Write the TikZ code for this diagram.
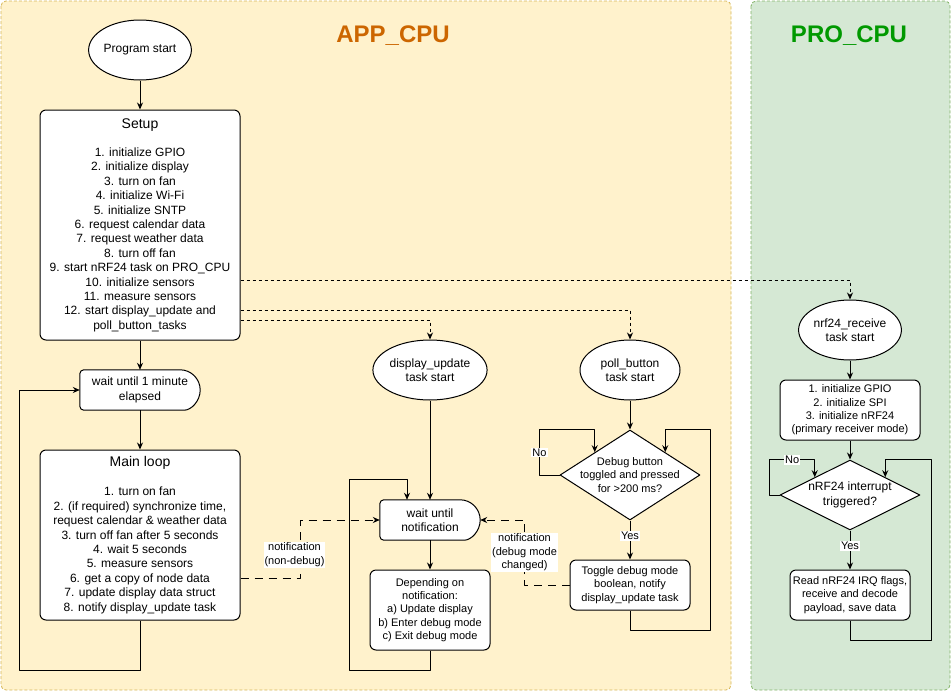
\documentclass[tikz,border=0pt]{standalone}
\usepackage{fontspec}
\setmainfont{Liberation Sans}
\usetikzlibrary{arrows.meta, shapes.geometric, backgrounds}

\definecolor{appfill}{HTML}{FFF2CC}
\definecolor{appline}{HTML}{D6B656}
\definecolor{profill}{HTML}{D5E8D4}
\definecolor{proline}{HTML}{82B366}
\definecolor{apptitle}{HTML}{CC6600}
\definecolor{protitle}{HTML}{009900}

\begin{document}
\begin{tikzpicture}[x=1pt, y=-1pt, >={Stealth[length=7pt, width=6pt]}, line join=round]
	%======================
	% STYLES
	%======================
	\tikzset{
		panel/.style={dash pattern=on 3pt off 2pt, rounded corners=5pt, line width=0.8pt},
		cputitle/.style={font=\fontsize{24}{28}\selectfont\bfseries},
		term/.style={ellipse, draw, fill=white, line width=1pt, minimum width=100pt, minimum height=60pt, inner sep=0pt, align=center, font=\fontsize{12}{14.4}\selectfont},
		proc/.style={rectangle, rounded corners=6pt, draw, fill=white, line width=1pt, align=center, inner sep=2pt, font=\fontsize{11}{13.4}\selectfont},
		bigproc/.style={proc, font=\fontsize{12}{14.4}\selectfont},
		dec/.style={diamond, draw, fill=white, line width=1pt, align=center, inner sep=0pt},
		waitnode/.style={rectangle, minimum height=40pt, inner sep=0pt, align=center, font=\fontsize{12}{14.4}\selectfont},
		flow/.style={->, line width=1pt},
		spawn/.style={->, line width=1pt, dash pattern=on 3pt off 3pt},
		notif/.style={->, line width=1pt, dash pattern=on 8pt off 6pt},
		lbl/.style={fill=white, inner sep=1pt, align=center, font=\fontsize{11}{13.4}\selectfont}
	}
	
	% delay shape drawn round a node
	\newcommand{\delayshape}[1]{
		\draw[line width=1pt, fill=white, rounded corners=4pt] ([xshift=-20pt]#1.north east) -- (#1.north west) -- (#1.south west) -- ([xshift=-20pt]#1.south east)
		[sharp corners] .. controls +(11,0) and +(0,11) .. (#1.east) .. controls +(0,-11) and +(11,0) .. ([xshift=-20pt]#1.north east) -- cycle;
	}
	
	\useasboundingbox (0,0) rectangle (951,691);
	
	% panels
	\begin{scope}[on background layer]
		\draw[panel, draw=appline, fill=appfill] (1,1) rectangle (731,690);
		\draw[panel, draw=proline, fill=profill] (751,1) rectangle (950,690);
	\end{scope}
	\node[cputitle, text=apptitle] (apptitle) at (393,36) {APP\_CPU};
	\node[cputitle, text=protitle] (protitle) at (849,36) {PRO\_CPU};
	
	% APP_CPU main task
	\node[term] (start) at (140,50) {Program start};
	\node[bigproc, minimum width=200pt, minimum height=230pt] (setup) at (140,225) {{\fontsize{14}{17}\selectfont Setup}\\[14pt]
		1. initialize GPIO\\2. initialize display\\3. turn on fan\\4. initialize Wi-Fi\\5. initialize SNTP\\
		6. request calendar data\\7. request weather data\\8. turn off fan\\9. start nRF24 task on PRO\_CPU\\
		10. initialize sensors\\11. measure sensors\\12. start display\_update and\\poll\_button\_tasks};
	\node[waitnode, minimum width=120pt] (wait1) at (140,390) {wait until 1 minute\\elapsed};
	\node[bigproc, minimum width=200pt, minimum height=170pt] (mainloop) at (140,535) {{\fontsize{14}{17}\selectfont Main loop}\\[15pt]
		1. turn on fan\\2. (if required) synchronize time,\\request calendar \& weather data\\3. turn off fan after 5 seconds\\
		4. wait 5 seconds\\5. measure sensors\\6. get a copy of node data\\7. update display data struct\\8. notify display\_update task};
	
	% display_update task
	\node[term] (dustart) at (430,370) {display\_update\\task start};
	\node[waitnode, minimum width=100pt] (wait2) at (430,520) {wait until\\notification};
	\node[proc, minimum width=120pt, minimum height=80pt] (depend) at (430,610) {Depending on\\notification:\\a) Update display\\b) Enter debug mode\\c) Exit debug mode};
	
	% poll_button task
	\node[term] (pbstart) at (630,370) {poll\_button\\task start};
	\node[dec, aspect=1.556, minimum width=140pt, minimum height=90pt, inner xsep=-10pt, font=\fontsize{11}{13.4}\selectfont] (debugq) at (630,475) {Debug button\\toggled and pressed\\for >200 ms?};
	\node[proc, minimum width=120pt, minimum height=50pt] (toggle) at (630,585) {Toggle debug mode\\boolean, notify\\display\_update task};
	
	% PRO_CPU task
	\node[term] (nrfstart) at (850,330) {nrf24\_receive\\task start};
	\node[proc, minimum width=140pt, minimum height=60pt] (nrfinit) at (850,410) {1. initialize GPIO\\2. initialize SPI\\3. initialize nRF24\\(primary receiver mode)};
	\node[dec, aspect=2, minimum width=140pt, minimum height=70pt, font=\fontsize{12}{14.4}\selectfont] (irqq) at (850,495) {nRF24 interrupt\\triggered?};
	\node[proc, minimum width=120pt, minimum height=50pt] (readirq) at (850,595) {Read nRF24 IRQ flags,\\receive and decode\\payload, save data};
	
	\begin{scope}[on background layer]
		\delayshape{wait1}
		\delayshape{wait2}
	\end{scope}
	
	% main flow
	\draw[flow] (start) -- (setup);
	\draw[flow] (setup) -- (wait1);
	\draw[flow] (wait1) -- (mainloop);
	\draw[flow] (mainloop.south) -- ++(0,50) -| ([xshift=-60pt]wait1.west) -- (wait1.west);
	
	% task creation
	\draw[spawn] ([yshift=-55pt]setup.east) -| (nrfstart.north);
	\draw[spawn] ([yshift=-85pt]setup.east) -| (pbstart.north);
	\draw[spawn] ([yshift=-95pt]setup.east) -| (dustart.north);
	
	% notifications
	\draw[notif] ([yshift=-43pt]mainloop.east) -- ++(60,0) |- node[lbl, pos=0.2, xshift=-6pt] {notification\\(non-debug)} (wait2.west);
	\draw[notif] (toggle.west) -- ++(-45,0) |- node[lbl, pos=0.25] {notification\\(debug mode\\changed)} (wait2.east);
	
	% display_update loop
	\draw[flow] (dustart) -- (wait2);
	\draw[flow] (wait2) -- (depend);
	\draw[flow] (depend.south) -- ++(0,20) -| ([shift={(-30pt,20pt)}]wait2.north west) -| ([xshift=-23pt]wait2.north);
	
	% poll_button loop
	\draw[flow] (pbstart) -- (debugq);
	\draw[flow] (debugq.west) -- ++(-20,0) |- node[lbl, pos=0.25] {No} ([yshift=22.5pt]debugq.north west) -- (debugq.north west);
	\draw[flow] (debugq.south) -- node[lbl, pos=0.4] {Yes} (toggle.north);
	\draw[flow] (toggle.south) -- ++(0,20) -| ([shift={(45pt,22.5pt)}]debugq.north east) -| (debugq.north east);
	
	% nrf24 loop
	\draw[flow] (nrfstart) -- (nrfinit);
	\draw[flow] (nrfinit) -- (irqq);
	\draw[flow] (irqq.west) -- ++(-10,0) |- node[lbl, pos=0.75] {No} ([yshift=17.5pt]irqq.north west) -- (irqq.north west);
	\draw[flow] (irqq.south) -- node[lbl, pos=0.4] {Yes} (readirq.north);
	\draw[flow] (readirq.south) -- ++(0,20) -| ([shift={(46pt,17.5pt)}]irqq.north east) -| (irqq.north east);
\end{tikzpicture}
\end{document}
